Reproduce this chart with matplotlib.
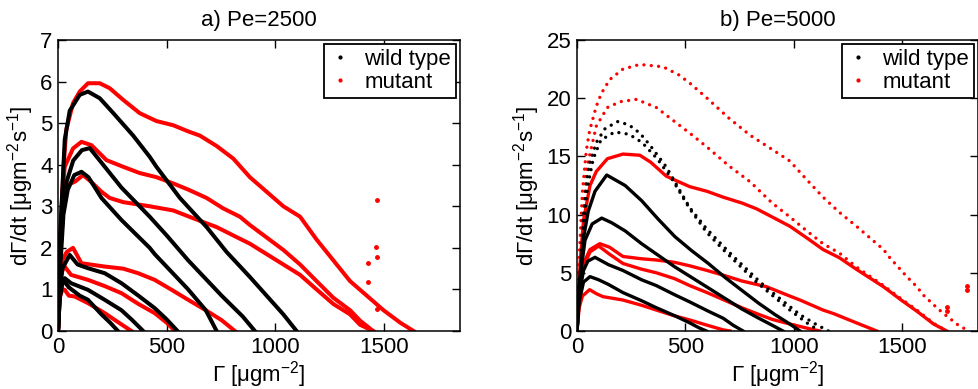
import matplotlib.pyplot as plt

plt.rcParams["font.family"] = ["Liberation Sans", "DejaVu Sans"]
plt.rcParams["mathtext.fontset"] = "custom"
plt.rcParams["mathtext.rm"] = "Liberation Sans"
plt.rcParams["mathtext.it"] = "Liberation Sans:italic"

# ---- a) Pe=2500, wild type (black)
a_wt1_x = [0, 10, 20, 31, 54, 100, 138, 192, 253, 346, 422, 453, 561, 684, 776, 883, 960, 1037, 1098]
a_wt1_y = [0, 2.3, 3.4, 4.6, 5.3, 5.68, 5.76, 5.6, 5.25, 4.7, 4.19, 3.95, 3.2, 2.5, 1.9, 1.3, 0.85, 0.4, 0]
a_wt2_x = [0, 10, 25, 40, 70, 110, 146, 200, 292, 422, 500, 599, 753, 850, 906]
a_wt2_y = [0, 1.8, 3.0, 3.6, 4.1, 4.35, 4.4, 4.05, 3.45, 2.75, 2.3, 1.7, 0.85, 0.35, 0]
a_wt3_x = [0, 10, 25, 45, 75, 108, 140, 200, 292, 422, 445, 599, 680, 730]
a_wt3_y = [0, 1.5, 2.8, 3.4, 3.75, 3.83, 3.7, 3.2, 2.67, 2.0, 1.85, 1.0, 0.5, 0]
a_wt4_x = [0, 8, 20, 54, 90, 138, 215, 292, 370, 445, 500, 550]
a_wt4_y = [0, 1.0, 1.5, 1.83, 1.6, 1.51, 1.39, 1.15, 0.85, 0.55, 0.28, 0]
a_wt5_x = [0, 8, 20, 31, 60, 138, 215, 292, 340, 392]
a_wt5_y = [0, 0.8, 1.2, 1.27, 1.15, 0.99, 0.75, 0.5, 0.27, 0]
a_wt6_x = [0, 8, 23, 50, 100, 138, 200, 240, 276]
a_wt6_y = [0, 0.8, 1.23, 1.05, 0.85, 0.75, 0.4, 0.2, 0]

# ---- a) Pe=2500, mutant (red)
a_mu1_x = [0, 8, 15, 25, 38, 69, 100, 138, 192, 238, 300, 376, 453, 530, 600, 653, 730, 806, 883,
           960, 1037, 1114, 1190, 1267, 1344, 1421, 1498, 1575, 1636]
a_mu1_y = [0, 1.8, 2.7, 3.9, 4.84, 5.48, 5.76, 5.96, 5.96, 5.84, 5.56, 5.24, 5.05, 4.95, 4.8, 4.7, 4.45, 4.15, 3.7,
           3.35, 3.0, 2.75, 2.2, 1.7, 1.2, 0.85, 0.5, 0.2, 0]
a_mu2_x = [0, 10, 20, 31, 69, 108, 154, 223, 300, 376, 453, 530, 600, 684, 760, 837, 883, 960, 1037,
           1114, 1190, 1267, 1344, 1390, 1450]
a_mu2_y = [0, 2.2, 3.3, 3.95, 4.39, 4.55, 4.47, 4.11, 3.95, 3.8, 3.7, 3.55, 3.4, 3.2, 2.95, 2.75, 2.55, 2.25, 1.95,
           1.6, 1.2, 0.8, 0.5, 0.25, 0]
a_mu3_x = [0, 10, 20, 40, 80, 115, 150, 200, 238, 300, 422, 530, 653, 730, 806, 883, 960, 1037, 1114,
           1190, 1267, 1344, 1390, 1450]
a_mu3_y = [0, 2.0, 3.0, 3.5, 3.6, 3.75, 3.6, 3.35, 3.2, 3.1, 3.0, 2.9, 2.65, 2.5, 2.3, 2.1, 1.85, 1.6, 1.35,
           1.0, 0.65, 0.4, 0.15, 0]
a_mu4_x = [0, 8, 20, 40, 69, 90, 108, 215, 300, 369, 445, 520, 599, 680, 753, 814]
a_mu4_y = [0, 1.2, 1.7, 1.9, 2.0, 1.8, 1.63, 1.55, 1.5, 1.39, 1.23, 1.0, 0.75, 0.5, 0.26, 0]
a_mu5_x = [0, 8, 20, 31, 60, 138, 215, 292, 370, 445, 500, 538]
a_mu5_y = [0, 1.1, 1.45, 1.55, 1.35, 1.23, 1.08, 0.91, 0.65, 0.43, 0.2, 0]
a_mu6_x = [0, 8, 20, 31, 50, 77, 138, 215, 280, 338]
a_mu6_y = [0, 0.8, 1.0, 0.99, 0.85, 0.83, 0.67, 0.43, 0.2, 0]
a_stray_x = [1467, 1464, 1470, 1427, 1427, 1467]
a_stray_y = [3.15, 2.03, 1.77, 1.63, 1.19, 0.52]

# ---- b) Pe=5000, wild type (black)
b_wt1_x = [0, 15, 30, 45, 58, 89, 130, 189, 240, 290, 335, 412, 458, 520, 597, 674, 722, 828, 875, 982,
           1029, 1100, 1160]
b_wt1_y = [0, 5, 10, 13, 14.4, 16.2, 17.4, 18.0, 17.7, 17.0, 16.0, 14.1, 12.6, 10.6, 8.8, 7.3, 6.4, 4.5, 3.7, 2.1,
           1.4, 0.6, 0]
b_wt2_x = [0, 15, 30, 50, 75, 110, 174, 240, 300, 370, 440, 520, 597, 674, 828, 982, 1060, 1120]
b_wt2_y = [0, 4.5, 9, 12.5, 14.8, 16.4, 17.1, 16.9, 16.2, 14.8, 13.0, 10.5, 8.5, 7.0, 4.2, 1.8, 0.7, 0]
b_wt3_x = [0, 15, 30, 52, 83, 137, 222, 298, 375, 452, 529, 606, 683, 760, 837, 914, 982, 1029]
b_wt3_y = [0, 5, 8, 10.3, 12.0, 13.4, 12.5, 11.2, 9.6, 8.1, 6.9, 5.8, 4.6, 3.5, 2.4, 1.4, 0.6, 0]
b_wt4_x = [0, 10, 37, 70, 114, 160, 222, 298, 375, 452, 529, 606, 683, 760, 828, 900, 950]
b_wt4_y = [0, 4, 7.8, 9.2, 9.7, 9.3, 8.6, 7.5, 6.5, 5.5, 4.6, 3.7, 2.8, 1.9, 1.2, 0.5, 0]
b_wt5_x = [0, 10, 30, 50, 83, 145, 212, 298, 366, 452, 520, 606, 674, 720, 766]
b_wt5_y = [0, 3, 5.2, 6.0, 6.33, 5.7, 5.2, 4.4, 3.9, 3.1, 2.5, 1.7, 1.1, 0.5, 0]
b_wt6_x = [0, 10, 30, 60, 100, 145, 212, 298, 366, 452, 520, 560, 597]
b_wt6_y = [0, 2.5, 4.2, 4.67, 4.4, 4.0, 3.3, 2.6, 2.0, 1.3, 0.7, 0.3, 0]

# ---- b) Pe=5000, mutant (red)
b_mu1_x = [0, 12, 25, 43, 58, 89, 112, 151, 212, 289, 397, 470, 520, 600, 700, 800, 900, 982, 1060,
           1135, 1210, 1289, 1414, 1443, 1520, 1568, 1597, 1660, 1691, 1768, 1814]
b_mu1_y = [0, 7, 12, 15.5, 17.2, 19.3, 20.4, 21.6, 22.5, 22.9, 22.7, 22.0, 21.3, 20.0, 18.3, 16.8, 15.6, 14.6, 13.0,
           11.5, 10.2, 9.0, 7.0, 6.3, 4.7, 3.8, 3.1, 2.0, 1.5, 0.37, 0]
b_mu2_x = [0, 20, 45, 89, 140, 200, 274, 366, 450, 520, 600, 700, 800, 900, 982, 1060, 1135, 1210, 1289,
           1414, 1500, 1568, 1645, 1706]
b_mu2_y = [0, 8, 14, 17.6, 19.2, 19.7, 19.9, 19.2, 18.0, 17.0, 15.8, 14.2, 12.8, 11.0, 9.8, 8.6, 7.5, 6.7, 5.5,
           3.9, 2.7, 1.8, 0.66, 0]
b_mu3_x = [0, 15, 30, 60, 89, 140, 212, 290, 340, 412, 520, 600, 674, 760, 828, 900, 982, 1060, 1135,
           1210, 1289, 1414, 1500, 1568, 1645, 1706]
b_mu3_y = [0, 6, 9.5, 12.5, 13.7, 14.8, 15.2, 15.1, 14.5, 13.3, 12.4, 12.0, 11.5, 11.0, 10.5, 9.8, 9.0, 8.0, 7.0,
           6.3, 5.3, 3.8, 2.6, 1.7, 0.6, 0]
b_mu4_x = [0, 15, 30, 60, 105, 150, 212, 300, 366, 450, 520, 600, 674, 760, 875, 982, 1029, 1135, 1183,
           1289, 1383]
b_mu4_y = [0, 4, 5.8, 7.0, 7.5, 7.2, 6.4, 6.2, 6.1, 5.9, 5.6, 5.2, 4.8, 4.3, 3.8, 3.0, 2.66, 1.8, 1.5,
           0.7, 0]
b_mu5_x = [0, 15, 30, 60, 100, 150, 212, 300, 366, 450, 520, 600, 674, 760, 828, 900, 982, 1060, 1120]
b_mu5_y = [0, 4, 5.5, 6.8, 7.3, 6.6, 5.8, 5.3, 5.0, 4.5, 3.9, 3.3, 2.7, 2.0, 1.5, 1.0, 0.6, 0.25, 0]
b_mu6_x = [0, 10, 25, 58, 90, 120, 212, 300, 366, 450, 520, 600, 674, 706]
b_mu6_y = [0, 2, 3.0, 3.55, 3.2, 2.95, 2.66, 2.2, 1.8, 1.3, 0.95, 0.5, 0.1, 0]
b_stray_x = [1706, 1706, 1801, 1801]
b_stray_y = [2.1, 1.7, 3.5, 3.9]

dot_style = (0, (0.01, 2.2))


def draw_panel(ax, wt, mu, stray, title, ymax, lw=2.3, dotted=()):
    for i, (x, y) in enumerate(mu):
        ls = dot_style if ("mu", i) in dotted else "-"
        ax.plot(x, y, color="red", lw=lw, ls=ls, dash_capstyle="round")
    for i, (x, y) in enumerate(wt):
        ls = dot_style if ("wt", i) in dotted else "-"
        ax.plot(x, y, color="black", lw=lw, ls=ls, dash_capstyle="round")
    ax.plot(stray[0], stray[1], ".", color="red", ms=5, ls="none")

    ax.set_xlim(0, 1850)
    ax.set_ylim(0, ymax)
    ax.set_xticks([0, 500, 1000, 1500])
    ax.set_title(title, fontsize=16, pad=10)
    ax.set_xlabel(r"Γ [μgm$^{-2}$]", fontsize=16, labelpad=1)
    ax.set_ylabel(r"dΓ/dt [μgm$^{-2}$s$^{-1}$]", fontsize=16, labelpad=3)
    ax.tick_params(direction="in", top=True, right=True, length=6, width=1, labelsize=16, pad=4)
    for s in ax.spines.values():
        s.set_linewidth(1.1)

    h1, = ax.plot([], [], ".", color="black", ms=4, label="wild type")
    h2, = ax.plot([], [], ".", color="red", ms=4, label="mutant")
    leg = ax.legend(handles=[h1, h2], loc="upper right", fontsize=16, fancybox=False,
                    framealpha=1, edgecolor="black", borderaxespad=0.2, borderpad=0.2,
                    labelspacing=0.1, handlelength=1.0, handletextpad=0.6)
    leg.get_frame().set_linewidth(1.3)


fig = plt.figure(figsize=(9.79, 3.89), dpi=100)
ax1 = fig.add_axes([58 / 979, 58 / 389, 402 / 979, 291 / 389])
ax2 = fig.add_axes([577 / 979, 58 / 389, 401 / 979, 291 / 389])

draw_panel(
    ax1,
    [(a_wt1_x, a_wt1_y), (a_wt2_x, a_wt2_y), (a_wt3_x, a_wt3_y),
     (a_wt4_x, a_wt4_y), (a_wt5_x, a_wt5_y), (a_wt6_x, a_wt6_y)],
    [(a_mu1_x, a_mu1_y), (a_mu2_x, a_mu2_y), (a_mu3_x, a_mu3_y),
     (a_mu4_x, a_mu4_y), (a_mu5_x, a_mu5_y), (a_mu6_x, a_mu6_y)],
    (a_stray_x, a_stray_y), "a) Pe=2500", 7, lw=2.9,
)
ax1.set_yticks(range(0, 8))

draw_panel(
    ax2,
    [(b_wt1_x, b_wt1_y), (b_wt2_x, b_wt2_y), (b_wt3_x, b_wt3_y),
     (b_wt4_x, b_wt4_y), (b_wt5_x, b_wt5_y), (b_wt6_x, b_wt6_y)],
    [(b_mu1_x, b_mu1_y), (b_mu2_x, b_mu2_y), (b_mu3_x, b_mu3_y),
     (b_mu4_x, b_mu4_y), (b_mu5_x, b_mu5_y), (b_mu6_x, b_mu6_y)],
    (b_stray_x, b_stray_y), "b) Pe=5000", 25, lw=2.4,
    dotted={("mu", 0), ("mu", 1), ("wt", 0), ("wt", 1)},
)
ax2.set_yticks(range(0, 26, 5))

fig.savefig("out.png", dpi=100)
